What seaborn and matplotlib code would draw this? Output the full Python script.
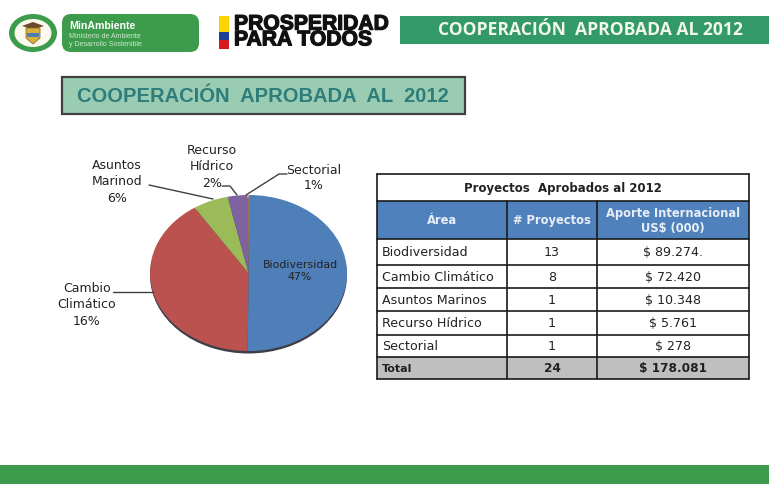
"""Cooperacion aprobada al 2012: pie chart and table slide."""

import matplotlib

matplotlib.use("Agg")
import matplotlib.patheffects as pe
import matplotlib.pyplot as plt
import seaborn as sns
from matplotlib.patches import Ellipse, FancyBboxPatch, Polygon, Rectangle

AREAS = ["Biodiversidad", "Cambio Climático", "Asuntos Marinos", "Recurso Hídrico", "Sectorial"]
PROJECTS = ["13", "8", "1", "1", "1"]
AMOUNTS = ["$ 89.274.", "$ 72.420", "$ 10.348", "$ 5.761", "$ 278"]
# wedge sizes as drawn in the picture, thousands of US$
PIE_VALUES = [89274, 72420, 10348, 5761, 278]
PIE_COLORS = ["#4F7FB8", "#BA534F", "#9BBB59", "#7F63A1", "#E8853A"]
TOTAL_ROW = ["Total", "24", "$ 178.081"]
HEADERS = ["Área", "# Proyectos", "Aporte Internacional\nUS$ (000)"]

GREEN = "#3C9C4B"
BANNER = "#339966"
W, H = 769, 485

sns.set_theme(style="white")
plt.rcParams["font.family"] = ["DejaVu Sans"]

fig = plt.figure(figsize=(W / 100, H / 100), dpi=100, facecolor="white")
ax = fig.add_axes([0, 0, 1, 1])
ax.set_xlim(0, W)
ax.set_ylim(H, 0)
ax.axis("off")

# header logos
ax.add_patch(Ellipse((33, 34), 48, 38, fc=GREEN, ec="none"))
ax.add_patch(Ellipse((33, 34), 37, 28, fc="#FBF8EC", ec="none"))
ax.add_patch(Polygon([(22, 27), (33, 23), (44, 27), (38, 29), (28, 29)], fc="#6B4A2A", ec="none"))
ax.add_patch(Polygon([(26, 29), (40, 29), (40, 39), (33, 45), (26, 39)], fc="#D9B23C", ec="#7A5A20", lw=0.5))
ax.add_patch(Rectangle((27, 34), 12, 4, fc="#4A7FB5", ec="none"))
ax.add_patch(FancyBboxPatch((62, 15), 137, 38, boxstyle="round,pad=0,rounding_size=9", fc=GREEN, ec="none"))
ax.text(69, 26, "MinAmbiente", color="white", fontsize=7.6, fontweight="bold", family="Liberation Sans", va="center")
ax.text(69, 37, "Ministerio de Ambiente", color="#CFE8D2", fontsize=5, family="Liberation Sans", va="center")
ax.text(69, 45, "y Desarrollo Sostenible", color="#CFE8D2", fontsize=5, family="Liberation Sans", va="center")
ax.add_patch(Rectangle((219, 17), 10, 16, fc="#FFD200", ec="none"))
ax.add_patch(Rectangle((219, 33), 10, 8, fc="#1F3F96", ec="none"))
ax.add_patch(Rectangle((219, 41), 10, 9, fc="#D71920", ec="none"))
heavy = [pe.withStroke(linewidth=0.9, foreground="#111111")]
ax.text(234, 33, "PROSPERIDAD\nPARA TODOS", color="#111111", fontsize=15.2, fontweight="bold",
        family="Liberation Sans", va="center", linespacing=0.78, path_effects=heavy)

# top banner, slide title, footer
ax.add_patch(Rectangle((400, 17), 369, 28, fc=BANNER, ec="none"))
ax.text(590, 30, "COOPERACIÓN  APROBADA AL 2012", color="#F2F7EC", fontsize=12.6, fontweight="bold",
        family="Open Sans", ha="center", va="center")
ax.add_patch(Rectangle((62, 78), 403, 37, fc="#99CCB2", ec="#404040", lw=1.6))
ax.text(77, 96, "COOPERACIÓN  APROBADA  AL  2012", color="#2E7D7A", fontsize=14.5, fontweight="bold",
        family="Liberation Sans", va="center")
ax.add_patch(Rectangle((0, 466), W, 19, fc=GREEN, ec="none"))

# pie, stretched into an ellipse like the original 3D chart
PIE_L, PIE_T, PIE_W, PIE_H = 150, 196, 197, 156
shadow = fig.add_axes([PIE_L / W, 1 - (PIE_T + PIE_H + 2.5) / H, PIE_W / W, PIE_H / H])
shadow.pie([1], colors=["#3F3F4A"], radius=1, wedgeprops={"linewidth": 0})
shadow.set_aspect("auto")
shadow.set_xlim(-1, 1)
shadow.set_ylim(-1, 1)
pie_ax = fig.add_axes([PIE_L / W, 1 - (PIE_T + PIE_H) / H, PIE_W / W, PIE_H / H])
wedges, _ = pie_ax.pie(
    PIE_VALUES,
    colors=sns.color_palette(PIE_COLORS),
    startangle=90,
    counterclock=False,
    radius=1,
    wedgeprops={"linewidth": 0},
)
pie_ax.set_aspect("auto")
pie_ax.set_xlim(-1, 1)
pie_ax.set_ylim(-1, 1)

# labels and leader lines over the pie
top = fig.add_axes([0, 0, 1, 1])
top.set_xlim(0, W)
top.set_ylim(H, 0)
top.axis("off")
top.patch.set_alpha(0)
label_size = 9
INK = "#222222"
top.text(300, 271, "Biodiversidad\n47%", ha="center", va="center", fontsize=7.9, color=INK, linespacing=1.15)
top.text(87, 305, "Cambio\nClimático\n16%", ha="center", va="center", fontsize=label_size, color=INK, linespacing=1.39)
top.text(117, 182, "Asuntos\nMarinod\n6%", ha="center", va="center", fontsize=label_size, color=INK, linespacing=1.39)
top.text(212, 167, "Recurso\nHídrico\n2%", ha="center", va="center", fontsize=label_size, color=INK, linespacing=1.39)
top.text(314, 178, "Sectorial\n1%", ha="center", va="center", fontsize=label_size, color=INK, linespacing=1.25)
for xs, ys in [
    ([113, 153], [293, 293]),
    ([149, 213], [186, 200]),
    ([222, 230, 237], [187, 187, 196]),
    ([287, 279, 246], [175, 175, 196]),
]:
    top.plot(xs, ys, color="#404040", lw=1)

# table
COLS = [377, 507, 597, 749]
ROWS = [175, 202, 240, 266, 289, 312, 336, 358, 380]
top.add_patch(Rectangle((COLS[0], ROWS[1]), COLS[3] - COLS[0], ROWS[2] - ROWS[1], fc="#4F81BD", ec="none"))
top.add_patch(Rectangle((COLS[0], ROWS[7]), COLS[3] - COLS[0], ROWS[8] - ROWS[7], fc="#BFBFBF", ec="none"))
for y in ROWS:
    top.plot([COLS[0], COLS[3]], [y, y], color="#1A1A1A", lw=1.2)
for i, x in enumerate(COLS):
    y0 = ROWS[0] if i in (0, 3) else ROWS[1]
    top.plot([x, x], [y0, ROWS[8]], color="#1A1A1A", lw=1.2)

mid = lambda a, b: (a + b) / 2
table_size = 9.1
top.text(mid(COLS[0], COLS[3]), mid(ROWS[0], ROWS[1]), "Proyectos  Aprobados al 2012", ha="center", va="center",
         fontsize=8.5, fontweight="bold", color=INK)
for j, head in enumerate(HEADERS):
    top.text(mid(COLS[j], COLS[j + 1]), mid(ROWS[1], ROWS[2]), head, ha="center", va="center",
             fontsize=8.3, fontweight="bold", color="#E8EEF6", linespacing=1.2)
for i, (area, count, amount) in enumerate(zip(AREAS, PROJECTS, AMOUNTS)):
    y = mid(ROWS[i + 2], ROWS[i + 3])
    top.text(382, y, area, ha="left", va="center", fontsize=table_size, color=INK)
    top.text(mid(COLS[1], COLS[2]), y, count, ha="center", va="center", fontsize=table_size, color=INK)
    top.text(mid(COLS[2], COLS[3]), y, amount, ha="center", va="center", fontsize=table_size, color=INK)
y = mid(ROWS[7], ROWS[8])
top.text(382, y, TOTAL_ROW[0], ha="left", va="center", fontsize=8, fontweight="bold", color=INK)
top.text(mid(COLS[1], COLS[2]), y, TOTAL_ROW[1], ha="center", va="center", fontsize=8.7, fontweight="bold", color=INK)
top.text(mid(COLS[2], COLS[3]), y, TOTAL_ROW[2], ha="center", va="center", fontsize=8.7, fontweight="bold", color=INK)

fig.savefig("out.png", dpi=100, facecolor="white")
